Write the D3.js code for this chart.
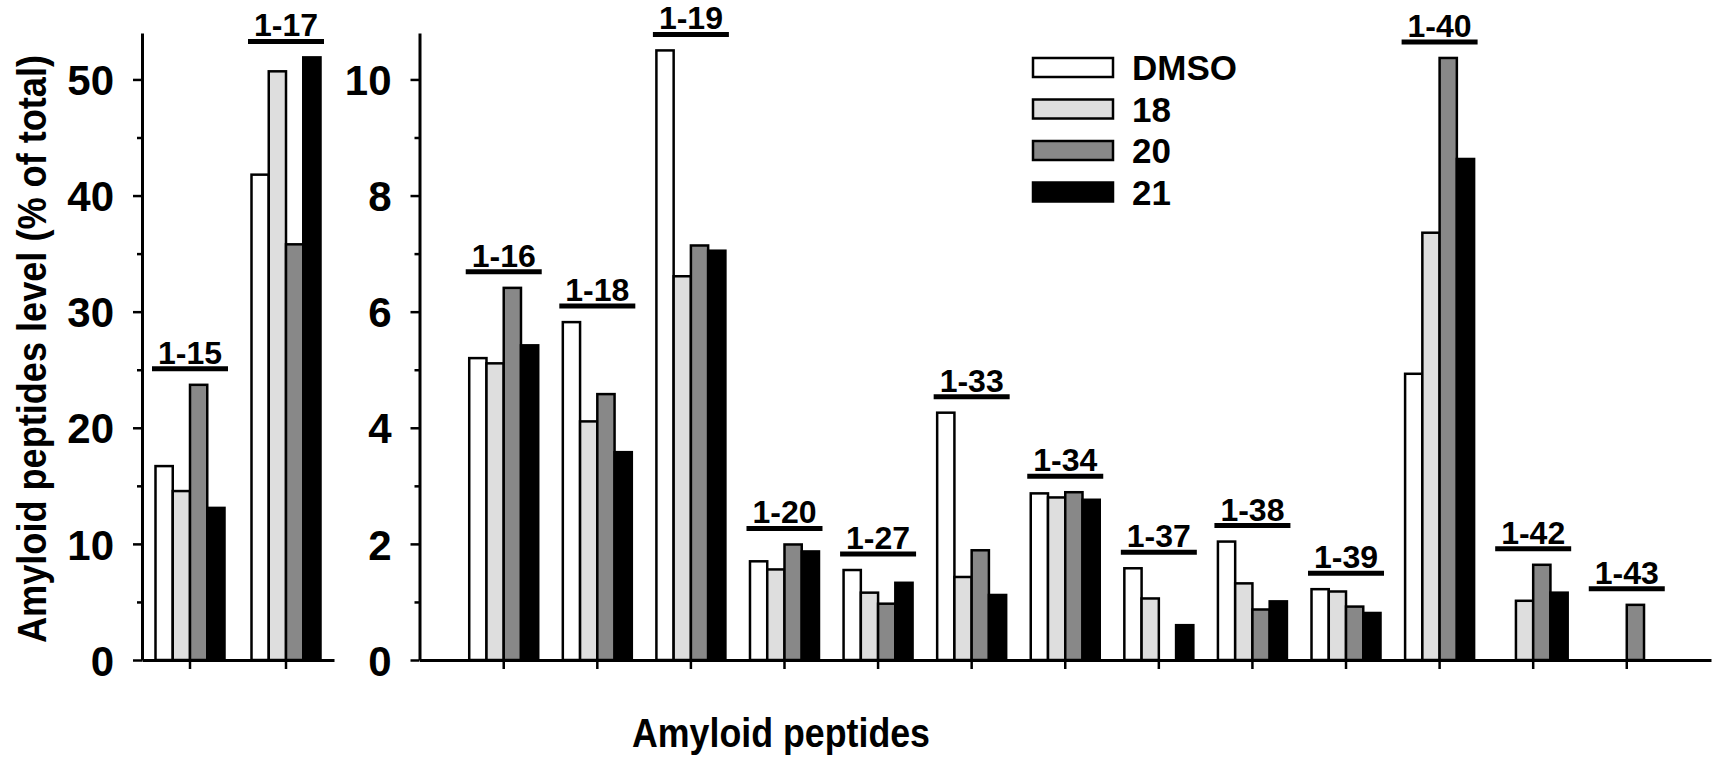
<!DOCTYPE html>
<html>
<head>
<meta charset="utf-8">
<script src="https://cdn.jsdelivr.net/npm/d3@7"></script>
<style>
  body { margin: 0; background: #fff; }
  text { font-family: "Liberation Sans", Arial, sans-serif; font-weight: bold; fill: #000; }
</style>
</head>
<body>
<script>
// categories
const leftCats = ["1-15", "1-17"];
const rightCats = ["1-16", "1-18", "1-19", "1-20", "1-27", "1-33", "1-34", "1-37", "1-38", "1-39", "1-40", "1-42", "1-43"];
const seriesNames = ["DMSO", "18", "20", "21"];

// % of total (null = no bar)
const dmsoLeft = [16.7, 41.8];
const c18Left  = [14.55, 50.7];
const c20Left  = [23.7, 35.8];
const c21Left  = [13.1, 51.9];

const dmsoRight = [5.2, 5.82, 10.5, 1.70, 1.55, 4.26, 2.87, 1.58, 2.04, 1.22, 4.93, null, null];
const c18Right  = [5.11, 4.11, 6.61, 1.56, 1.16, 1.43, 2.80, 1.06, 1.32, 1.18, 7.36, 1.02, null];
const c20Right  = [6.41, 4.58, 7.14, 1.99, 0.97, 1.89, 2.89, null, 0.87, 0.92, 10.37, 1.64, 0.95];
const c21Right  = [5.42, 3.58, 7.05, 1.87, 1.33, 1.12, 2.76, 0.60, 1.01, 0.81, 8.63, 1.16, null];

// tick values
const leftTicks = [0, 10, 20, 30, 40, 50];
const leftMinor = [5, 15, 25, 35, 45];
const rightTicks = [0, 2, 4, 6, 8, 10];
const rightMinor = [1, 3, 5, 7, 9];

const colors = ["#ffffff", "#dedede", "#888888", "#000000"];

const svg = d3.select("body").append("svg")
  .attr("width", 1722)
  .attr("height", 760);

const color = d3.scaleOrdinal().domain(seriesNames).range(colors);
const inner = d3.scaleBand().domain(seriesNames).range([-34.5, 34.5]);

function drawPanel(cats, series, yMax, xRange, outerPad, ticks, minor) {
  const x = d3.scaleBand().domain(cats).range(xRange).paddingOuter(outerPad);
  const y = d3.scaleLinear().domain([0, yMax]).range([660, 33]);
  const g = svg.append("g");

  // bars
  cats.forEach((c, i) => {
    const cx = x(c) + x.bandwidth() / 2;
    const vals = series.map((s, k) => ({ name: seriesNames[k], v: s[i] })).filter(d => d.v != null);

    g.selectAll(null)
      .data(vals)
      .enter()
      .append("rect")
      .attr("x", d => cx + inner(d.name))
      .attr("y", d => y(d.v))
      .attr("width", inner.bandwidth())
      .attr("height", d => y(0) - y(d.v))
      .attr("fill", d => color(d.name))
      .attr("stroke", "#000")
      .attr("stroke-width", 2.5);

    // group label with bar underneath
    const top = y(d3.max(vals, d => d.v));
    g.append("line")
      .attr("x1", cx - 38).attr("x2", cx + 38)
      .attr("y1", top - 16).attr("y2", top - 16)
      .attr("stroke", "#000")
      .attr("stroke-width", 5);
    g.append("text")
      .attr("x", cx)
      .attr("y", top - 21)
      .attr("text-anchor", "middle")
      .style("font-size", "32px")
      .text(c);
  });

  // y axis
  const yAxis = g.append("g")
    .attr("transform", `translate(${xRange[0]},0)`)
    .call(d3.axisLeft(y).tickValues(ticks).tickSize(9).tickPadding(19).tickSizeOuter(0));
  yAxis.selectAll("text").style("font-size", "42px").attr("dy", "0.36em");

  g.append("g")
    .attr("transform", `translate(${xRange[0]},0)`)
    .call(d3.axisLeft(y).tickValues(minor).tickSize(5).tickFormat(""))
    .call(a => a.select(".domain").remove());

  // x axis
  g.append("g")
    .attr("transform", "translate(0,660)")
    .call(d3.axisBottom(x).tickSize(9).tickFormat("").tickSizeOuter(0));

  g.selectAll(".domain").attr("stroke-width", 3);
  g.selectAll(".tick line").attr("stroke-width", 2.5);
}

drawPanel(leftCats, [dmsoLeft, c18Left, c20Left, c21Left], 54, [142, 334], 0, leftTicks, leftMinor);
drawPanel(rightCats, [dmsoRight, c18Right, c20Right, c21Right], 10.8, [419.5, 1711], 0.4, rightTicks, rightMinor);

// legend
const legend = svg.append("g").attr("transform", "translate(1033,58)");
seriesNames.forEach((name, i) => {
  legend.append("rect")
    .attr("x", 0)
    .attr("y", i * 41.5)
    .attr("width", 80)
    .attr("height", 19)
    .attr("fill", color(name))
    .attr("stroke", "#000")
    .attr("stroke-width", 2.5);
  legend.append("text")
    .attr("x", 99)
    .attr("y", i * 41.5 + 22)
    .style("font-size", "35px")
    .text(name);
});

// axis titles
svg.append("text")
  .attr("transform", "translate(46,349) rotate(-90)")
  .attr("text-anchor", "middle")
  .attr("textLength", 588)
  .attr("lengthAdjust", "spacingAndGlyphs")
  .style("font-size", "40px")
  .text("Amyloid peptides level (% of total)");

svg.append("text")
  .attr("x", 632)
  .attr("y", 747)
  .attr("textLength", 298)
  .attr("lengthAdjust", "spacingAndGlyphs")
  .style("font-size", "40px")
  .text("Amyloid peptides");
</script>
</body>
</html>
